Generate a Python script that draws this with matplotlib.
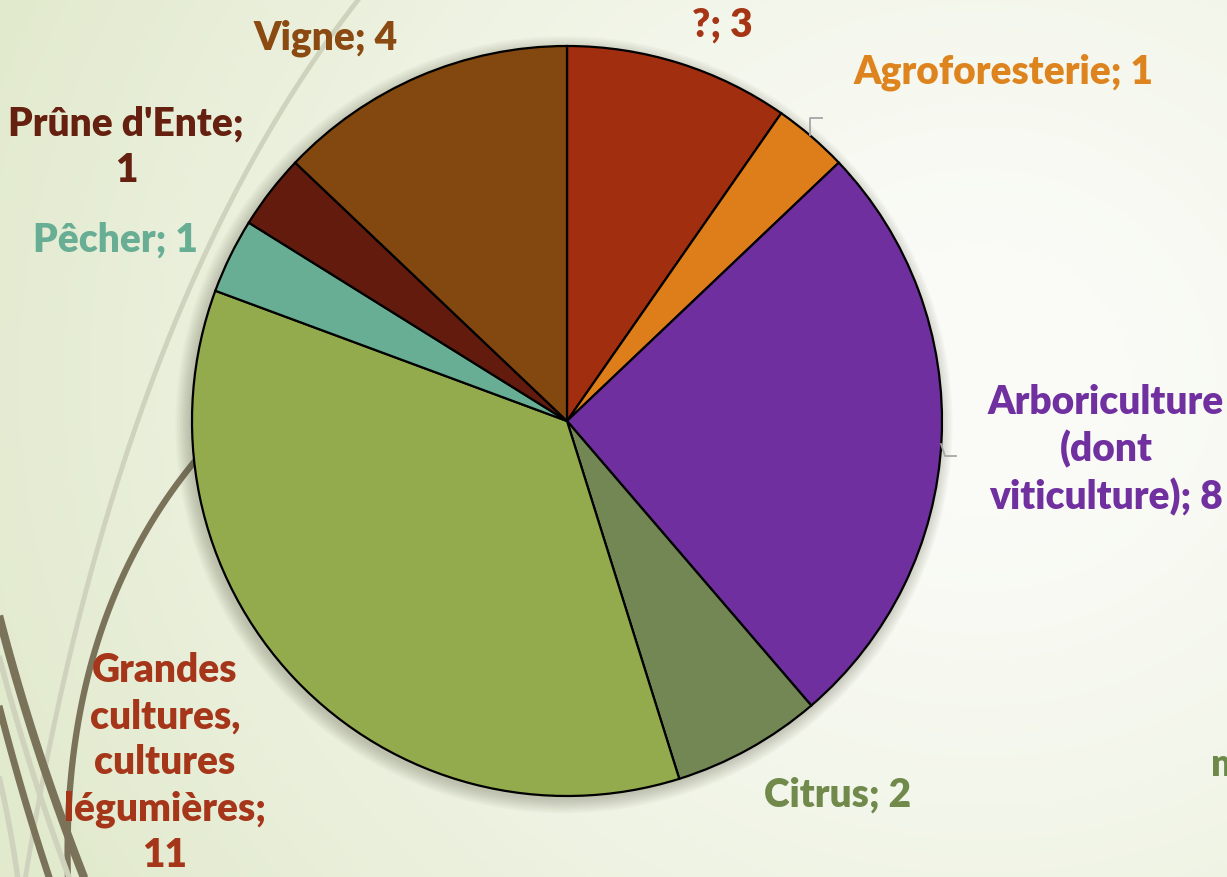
import numpy as np
import matplotlib
matplotlib.use("Agg")
import matplotlib.pyplot as plt
from matplotlib.lines import Line2D
from matplotlib.patches import Circle

# ---- data ----
categories = ["?", "Agroforesterie", "Arboriculture\n(dont\nviticulture)", "Citrus",
              "Grandes\ncultures,\ncultures\nlégumières", "Pêcher", "Prûne d'Ente", "Vigne"]
values = [3, 1, 8, 2, 11, 1, 1, 4]
slice_colors = ["#A22E10", "#DE7E1A", "#6F2F9F", "#738755", "#93AB4D", "#67AE94", "#631B0E", "#83480F"]
label_colors = ["#A63515", "#DE841F", "#7030A0", "#718A4C", "#A6361A", "#67AE94", "#652010", "#8B4A12"]
label_texts = ["?; 3", "Agroforesterie; 1", "Arboriculture\n(dont\nviticulture); 8", "Citrus; 2",
               "Grandes\ncultures,\ncultures\nlégumières;\n11", "Pêcher; 1", "Prûne d'Ente;\n1", "Vigne; 4"]

# ---- layout (pixels) ----
W, H = 1227, 877
label_pos = [(722, 25), (1003, 72), (1106, 450), (838, 795),
             (165, 763), (115, 240), (126, 147), (326, 38)]
cx, cy, R = 567, 421, 375

plt.rcParams['font.family'] = ['Lato', 'DejaVu Sans']
fig = plt.figure(figsize=(W / 100, H / 100), dpi=100)

# background
bg = fig.add_axes([0, 0, 1, 1])
bg.set_xlim(0, W)
bg.set_ylim(H, 0)
bg.axis('off')
yy, xx = np.mgrid[0:H, 0:W]
d = np.sqrt(((xx - 980) / 1.0) ** 2 + ((yy - 380) / 0.9) ** 2)
t = np.clip((d - 150) / 900, 0, 1) ** 1.2
c_white = np.array([250, 251, 246]) / 255
c_green = np.array([226, 234, 206]) / 255
img = c_white[None, None, :] * (1 - t[..., None]) + c_green[None, None, :] * t[..., None]
bg.imshow(img, extent=[0, W, H, 0], aspect='auto', zorder=0)


def bez(p0, p1, p2, n=100):
    s = np.linspace(0, 1, n)[:, None]
    p0, p1, p2 = map(np.array, (p0, p1, p2))
    return (1 - s) ** 2 * p0 + 2 * (1 - s) * s * p1 + s ** 2 * p2


deco = [
    ((362, -5), (120, 300), (25, 880), "#cfd3bd", 3.5),
    ((200, 455), (60, 620), (68, 880), "#7a7259", 4.5),
    ((-5, 600), (30, 740), (85, 880), "#7a7259", 6),
    ((-5, 690), (20, 790), (50, 880), "#7a7259", 5),
    ((-5, 640), (25, 760), (70, 880), "#cfd3bd", 4),
    ((-5, 760), (10, 820), (18, 880), "#cfd3bd", 4),
]
for p0, p1, p2, col, lw in deco:
    pts = bez(p0, p1, p2)
    bg.plot(pts[:, 0], pts[:, 1], color=col, lw=lw, solid_capstyle='butt', zorder=1)

# pie axes
ax = fig.add_axes([(cx - R) / W, (H - cy - R) / H, 2 * R / W, 2 * R / H])
ax.set_xlim(-1, 1)
ax.set_ylim(-1, 1)
ax.set_aspect('equal')
ax.axis('off')
ax.patch.set_alpha(0)

# soft shadow
for k in range(10):
    ax.add_patch(Circle((-0.008, -0.010), 1.0 + k * 0.004, color='#50503a',
                        alpha=0.03, lw=0, zorder=0, clip_on=False))

ax.pie(values, colors=slice_colors, startangle=90, counterclock=False, radius=1,
       wedgeprops=dict(edgecolor='black', linewidth=1.6), frame=False)
ax.set_xlim(-1, 1)
ax.set_ylim(-1, 1)

# labels
for txt, col, (px, py) in zip(label_texts, label_colors, label_pos):
    fig.text(px / W, 1 - py / H, txt, color=col, fontsize=28, fontweight='heavy',
             ha='center', va='center', linespacing=1.3, multialignment='center')

# leader lines
for xs, ys in [([810, 810, 822], [135, 118, 118]), ([941, 945, 956], [444, 456, 456])]:
    fig.add_artist(Line2D(np.array(xs) / W, 1 - np.array(ys) / H, color='#a6a6a6',
                          lw=1.3, transform=fig.transFigure))

# partially visible text at right edge (as in the reference)
fig.text(1211 / W, 1 - 765 / H, "m", color="#6E8A4A", fontsize=27, fontweight='heavy',
         ha='left', va='center')

fig.savefig("out.png", dpi=100)
